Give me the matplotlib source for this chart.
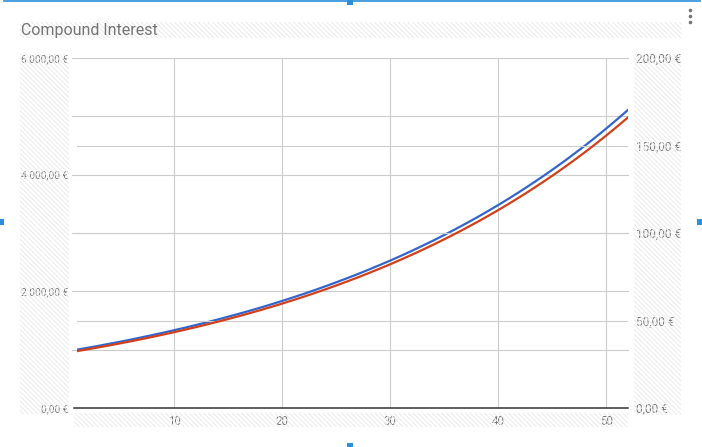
import matplotlib
matplotlib.use('Agg')
import matplotlib.pyplot as plt
import matplotlib.patches as mpatches
from matplotlib.lines import Line2D

plt.rcParams['font.family'] = ['Roboto', 'DejaVu Sans']
plt.rcParams['hatch.linewidth'] = 0.8

# data (periods 1..52)
periods = list(range(1, 53))
balance = [1000, 1033, 1066, 1101, 1136, 1173, 1212, 1251, 1292, 1334,
           1377, 1422, 1468, 1516, 1565, 1616, 1668, 1722, 1778, 1836,
           1896, 1957, 2021, 2087, 2155, 2225, 2297, 2372, 2449, 2528,
           2610, 2695, 2783, 2873, 2967, 3063, 3163, 3265, 3372, 3481,
           3594, 3711, 3832, 3956, 4085, 4217, 4355, 4496, 4642, 4793,
           4949, 5110]
interest = [32.50, 33.56, 34.65, 35.77, 36.94, 38.14, 39.38, 40.66, 41.98, 43.34,
            44.75, 46.20, 47.71, 49.26, 50.86, 52.51, 54.22, 55.98, 57.80, 59.68,
            61.62, 63.62, 65.69, 67.82, 70.02, 72.30, 74.65, 77.08, 79.58, 82.17,
            84.84, 87.59, 90.44, 93.38, 96.42, 99.55, 102.78, 106.13, 109.57, 113.14,
            116.81, 120.61, 124.53, 128.58, 132.75, 137.07, 141.52, 146.12, 150.87, 155.78,
            160.84, 166.07]

left_ticks = [0, 1000, 2000, 3000, 4000, 5000, 6000]
left_labels = ['0,00 €', '', '2 000,00 €', '', '4 000,00 €', '', '6 000,00 €']
right_ticks = [0, 50, 100, 150, 200]
right_labels = ['0,00 €', '50,00 €', '100,00 €', '150,00 €', '200,00 €']
x_ticks = [10, 20, 30, 40, 50]

W, H = 702, 447
fig = plt.figure(figsize=(W / 100, H / 100), dpi=100)
fig.patch.set_facecolor('white')

def fx(px):
    return px / W

def fy(py):
    return 1 - py / H

def hatch_box(x0, y0, x1, y1):
    r = mpatches.Rectangle((fx(x0), fy(y1)), fx(x1) - fx(x0), fy(y0) - fy(y1),
                           transform=fig.transFigure, facecolor='none',
                           edgecolor='#ededed', linewidth=0, hatch='\\' * 7,
                           zorder=0)
    fig.patches.append(r)

# grey placeholder stripes behind title and labels
hatch_box(20, 22, 682, 38)
hatch_box(20, 54, 69, 414)
hatch_box(634, 54, 681, 415)
hatch_box(74, 413, 628, 427)

grey = '#757575'
fig.text(fx(21), fy(30), 'Compound Interest', fontsize=11.5, color=grey,
         ha='left', va='center')

ax = fig.add_axes([fx(77), fy(408), fx(628) - fx(77), fy(58) - fy(408)])
ax.patch.set_alpha(0)
ax2 = ax.twinx()

ax.set_xlim(1, 52)
ax.set_ylim(0, 6000)
ax2.set_ylim(0, 200)

for s in ax.spines.values():
    s.set_visible(False)
for s in ax2.spines.values():
    s.set_visible(False)

ext = -5 / 551
for v in left_ticks[1:]:
    ax.axhline(v, xmin=ext, xmax=1, color='#cccccc', lw=0.8, clip_on=False, zorder=1)
for v in right_ticks[1:]:
    ax2.axhline(v, xmin=0, xmax=1, color='#cccccc', lw=0.8, zorder=0)
for v in x_ticks:
    ax.axvline(v, color='#cccccc', lw=0.8, zorder=1)
ax.axhline(0, xmin=-3 / 551, xmax=1, color='#333333', lw=1.1, clip_on=False, zorder=3)

ax.plot(periods, balance, color='#3366cc', lw=1.6, zorder=4)
ax2.plot(periods, interest, color='#d23f1a', lw=1.6, zorder=3)

ax.set_yticks(left_ticks)
ax.set_yticklabels(left_labels)
ax.tick_params(axis='y', length=0, pad=6.5, labelsize=7.3, labelcolor=grey)
ax.set_xticks(x_ticks)
ax.set_xticklabels([str(v) for v in x_ticks])
ax.tick_params(axis='x', length=0, pad=5, labelsize=8.3, labelcolor=grey)
ax2.set_yticks(right_ticks)
ax2.set_yticklabels(right_labels)
ax2.tick_params(axis='y', length=0, pad=6, labelsize=8.6, labelcolor=grey)

# menu dots
for py in (10, 16, 22):
    fig.add_artist(Line2D([fx(690)], [fy(py)], marker='o', markersize=2.6,
                          markeredgewidth=0, color='#757575',
                          transform=fig.transFigure))

# selection frame
blue = '#2a8fdc'
fig.add_artist(Line2D([fx(4), fx(700)], [fy(1), fy(1)], color=blue, lw=1.2,
                      transform=fig.transFigure))
for (cx, cy) in [(350, 2), (1, 222), (700, 222), (350, 446)]:
    fig.patches.append(mpatches.Rectangle((fx(cx - 3), fy(cy + 3)), fx(6), 6 / H,
                                          transform=fig.transFigure,
                                          facecolor=blue, edgecolor='none'))

fig.savefig('out.png', dpi=100, facecolor='white')
